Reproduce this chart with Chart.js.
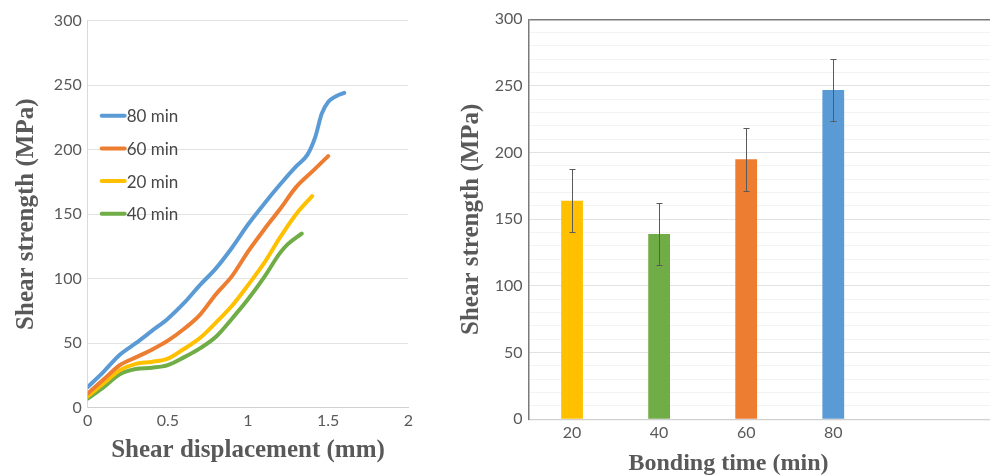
<!DOCTYPE html>
<html><head><meta charset="utf-8">
<script src="https://cdn.jsdelivr.net/npm/chart.js@4"></script>
<style>
html,body{margin:0;padding:0;background:#fff;overflow:hidden;width:990px;height:476px}
#c1{position:absolute;left:0;top:0}
#c2{position:absolute;left:440px;top:0}
</style></head><body>
<canvas id="c1" width="430" height="476"></canvas>
<canvas id="c2" width="550" height="476"></canvas>
<script>
// ---- Left chart data: shear strength vs shear displacement ----
const seriesLabels = ['80 min', '60 min', '20 min', '40 min'];
const seriesColors = ['#5B9BD5', '#ED7D31', '#FFC000', '#70AD47'];

const disp80 = [0, 0.1, 0.2, 0.3, 0.4, 0.5, 0.6, 0.7, 0.8, 0.9, 1.0, 1.1, 1.2, 1.3, 1.37, 1.42, 1.46, 1.5, 1.55, 1.6];
const str80  = [16, 28, 41, 50, 59.5, 69, 81, 95, 108, 124, 142, 158, 173, 187, 196, 210, 228, 237, 241.5, 244];

const disp60 = [0, 0.1, 0.2, 0.3, 0.4, 0.5, 0.6, 0.7, 0.8, 0.9, 1.0, 1.1, 1.2, 1.3, 1.4, 1.5];
const str60  = [11, 22, 33, 39, 45, 52, 61, 72, 88, 102, 121, 138, 154, 171, 183, 195];

const disp20 = [0, 0.1, 0.2, 0.3, 0.4, 0.5, 0.6, 0.7, 0.8, 0.9, 1.0, 1.1, 1.2, 1.3, 1.4];
const str20  = [9, 19, 29, 34, 35.5, 38, 45.5, 54, 66, 79, 95, 112, 132, 150, 164];

const disp40 = [0, 0.1, 0.2, 0.3, 0.4, 0.5, 0.6, 0.7, 0.8, 0.9, 1.0, 1.1, 1.2, 1.25, 1.335];
const str40  = [7, 16, 26, 30, 31, 33, 39, 46, 55, 69, 84, 101, 120, 127, 135];

const dispTicks = [0, 0.5, 1, 1.5, 2];
const strengthTicks = [0, 50, 100, 150, 200, 250, 300];

// ---- Right chart data: shear strength vs bonding time ----
const bondingTimes = [20, 40, 60, 80];
const meanStrength = [164, 139, 195, 247];
const strengthError = [23.5, 23.5, 23.5, 23.5];
const barColors = ['#FFC000', '#70AD47', '#ED7D31', '#5B9BD5'];

const TICK_FONT = {family: 'Lato', size: 16};
const TICK_COLOR = '#595959';
const TITLE_FONT = {family: 'Liberation Serif', size: 25, weight: 'bold'};
const TITLE_COLOR = '#595959';

function series(xs, ys, i) {
  return {
    label: seriesLabels[i],
    data: xs.map((x, k) => ({x: x, y: ys[k]})),
    borderColor: seriesColors[i],
    backgroundColor: seriesColors[i],
    borderWidth: 4,
    pointRadius: 0,
    cubicInterpolationMode: 'monotone',
    borderCapStyle: 'round',
    borderJoinStyle: 'round',
    fill: false
  };
}

const insideLegend = {
  id: 'insideLegend',
  afterDraw(chart) {
    const ctx = chart.ctx, a = chart.chartArea;
    ctx.save();
    ctx.font = '17px Lato';
    ctx.textBaseline = 'middle';
    ctx.textAlign = 'left';
    chart.data.datasets.forEach((ds, i) => {
      const y = a.top + 95 + i * 32.7;
      ctx.strokeStyle = ds.borderColor;
      ctx.lineWidth = 4;
      ctx.lineCap = 'round';
      ctx.beginPath();
      ctx.moveTo(a.left + 14, y);
      ctx.lineTo(a.left + 37, y);
      ctx.stroke();
      ctx.fillStyle = '#474747';
      ctx.fillText(ds.label, a.left + 39, y + 1);
    });
    ctx.restore();
  }
};

new Chart(document.getElementById('c1'), {
  type: 'line',
  data: {
    datasets: [
      series(disp80, str80, 0),
      series(disp60, str60, 1),
      series(disp20, str20, 2),
      series(disp40, str40, 3)
    ]
  },
  options: {
    responsive: false,
    animation: false,
    devicePixelRatio: 1,
    layout: {padding: {top: 20.7, right: 21.7, left: 0, bottom: 0}},
    plugins: {legend: {display: false}, tooltip: {enabled: false}},
    scales: {
      x: {
        type: 'linear', min: 0, max: 2,
        afterBuildTicks: s => { s.ticks = dispTicks.map(v => ({value: v})); },
        afterFit: s => { s.height = 68.3; },
        grid: {display: false, drawTicks: false},
        border: {display: true, color: '#d0d0d0', width: 1},
        ticks: {padding: 4, color: TICK_COLOR, font: TICK_FONT, callback: v => String(v)},
        title: {display: true, text: 'Shear displacement (mm)', color: TITLE_COLOR, font: TITLE_FONT, padding: {top: 0, bottom: 10}}
      },
      y: {
        type: 'linear', min: 0, max: 300,
        afterBuildTicks: s => { s.ticks = strengthTicks.map(v => ({value: v})); },
        afterFit: s => { s.width = 87.7; },
        grid: {color: '#e3e3e3', drawTicks: false},
        border: {display: true, color: '#dadada', width: 1},
        ticks: {padding: 6, color: TICK_COLOR, font: TICK_FONT, callback: v => String(v)},
        title: {display: true, text: 'Shear strength (MPa)', color: TITLE_COLOR, font: TITLE_FONT, padding: {top: 12, bottom: 0}}
      }
    }
  },
  plugins: [insideLegend]
});

const errorBars = {
  id: 'errorBars',
  afterDatasetsDraw(chart) {
    const ctx = chart.ctx, x = chart.scales.x, y = chart.scales.y;
    ctx.save();
    ctx.strokeStyle = '#5a5a5a';
    ctx.lineWidth = 1;
    bondingTimes.forEach((t, i) => {
      const px = Math.round(x.getPixelForValue(t)) + 0.5;
      const top = Math.round(y.getPixelForValue(meanStrength[i] + strengthError[i])) + 0.5;
      const bot = Math.round(y.getPixelForValue(meanStrength[i] - strengthError[i])) + 0.5;
      ctx.beginPath();
      ctx.moveTo(px, top); ctx.lineTo(px, bot);
      ctx.moveTo(px - 3, top); ctx.lineTo(px + 3, top);
      ctx.moveTo(px - 3, bot); ctx.lineTo(px + 3, bot);
      ctx.stroke();
    });
    ctx.restore();
  }
};

const bottomTitle = {
  id: 'bottomTitle',
  afterDraw(chart) {
    const ctx = chart.ctx;
    ctx.save();
    ctx.font = 'bold 24px "Liberation Serif"';
    ctx.fillStyle = TITLE_COLOR;
    ctx.textAlign = 'center';
    ctx.textBaseline = 'middle';
    ctx.fillText('Bonding time (min)', 288.5, 464);
    ctx.restore();
  }
};

new Chart(document.getElementById('c2'), {
  type: 'bar',
  data: {
    datasets: [{
      data: bondingTimes.map((t, i) => ({x: t, y: meanStrength[i]})),
      backgroundColor: barColors,
      borderWidth: 0,
      barPercentage: 0.25,
      categoryPercentage: 1
    }]
  },
  options: {
    responsive: false,
    animation: false,
    devicePixelRatio: 1,
    layout: {padding: {top: 19.3, right: 0, left: 0, bottom: 0}},
    plugins: {legend: {display: false}, tooltip: {enabled: false}},
    scales: {
      x: {
        type: 'linear', min: 10, max: 116, offset: false,
        afterBuildTicks: s => { s.ticks = bondingTimes.map(v => ({value: v})); },
        afterFit: s => { s.height = 56.7; },
        grid: {display: false, drawTicks: false, offset: false},
        border: {display: true, color: '#d0d0d0', width: 1.2},
        ticks: {padding: 4, color: TICK_COLOR, font: TICK_FONT, callback: v => String(v)},
        title: {display: false}
      },
      y: {
        type: 'linear', min: 0, max: 300,
        afterBuildTicks: s => {
          const t = [];
          for (let v = 0; v <= 300; v += 10) t.push({value: v});
          s.ticks = t;
        },
        afterFit: s => { s.width = 88.5; },
        grid: {
          drawTicks: false,
          color: c => c.tick.value === 300 ? '#7a7a7a' : (c.tick.value % 50 === 0 ? '#e2e2e2' : '#f3f3f3'),
          lineWidth: c => c.tick.value === 300 ? 1.5 : 1
        },
        border: {display: true, color: '#7a7a7a', width: 1.5},
        ticks: {autoSkip: false, padding: 6, color: TICK_COLOR, font: TICK_FONT,
                callback: v => strengthTicks.includes(v) ? String(v) : ''},
        title: {display: true, text: 'Shear strength (MPa)', color: TITLE_COLOR, font: TITLE_FONT, padding: {top: 17, bottom: 0}}
      }
    }
  },
  plugins: [errorBars, bottomTitle]
});
</script>
</body></html>
